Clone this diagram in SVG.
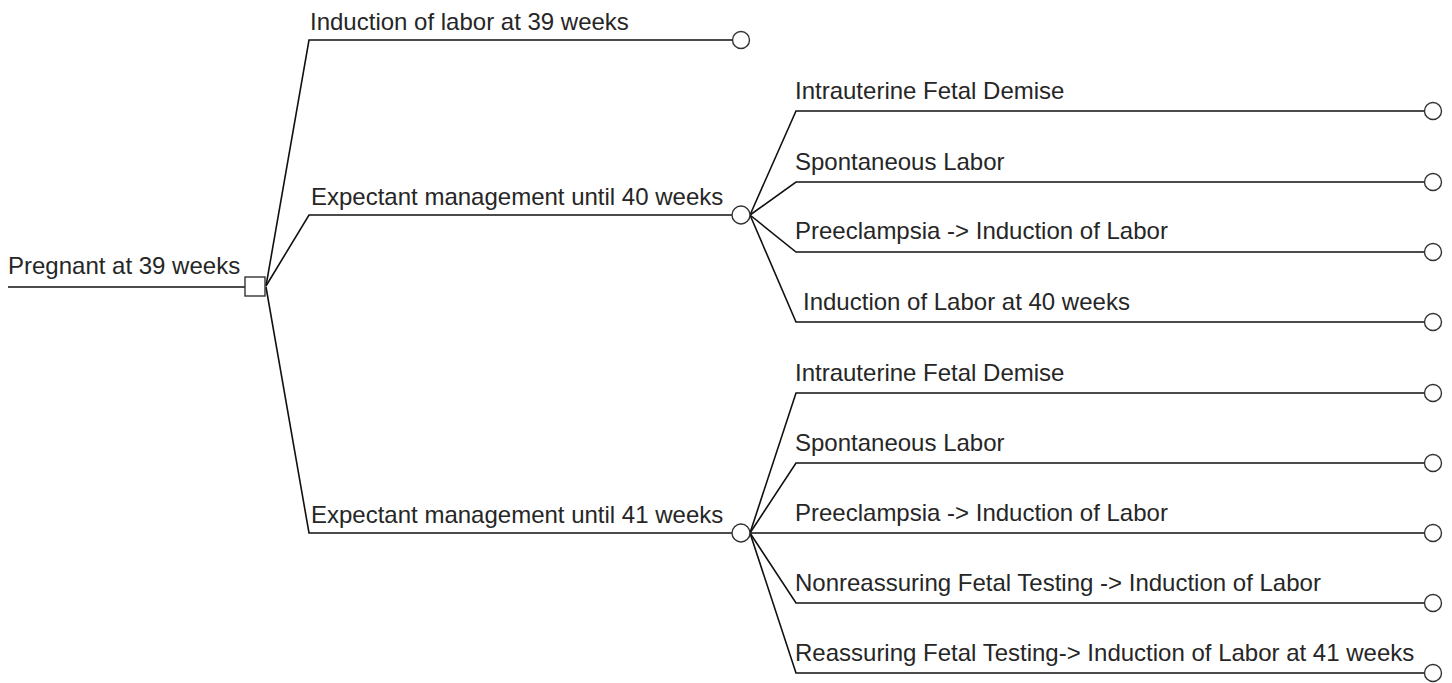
<svg xmlns="http://www.w3.org/2000/svg" width="1452" height="683" viewBox="0 0 1452 683">
<style>
text{font-family:"Liberation Sans",Arial,sans-serif;font-size:24px;fill:#262626}
.ln{fill:none;stroke:#111;stroke-width:1.6}
.ch{fill:#fff;stroke:#333;stroke-width:1.4}
</style>
<rect width="1452" height="683" fill="#fff"/>
<g id="connectors">
<path class="ln" d="M8 287H245"/>
<path class="ln" d="M266 286L309 40H733"/>
<path class="ln" d="M266 286L309 215H732"/>
<path class="ln" d="M266 287L309 533H732"/>
<path class="ln" d="M750 215L796 111H1424"/>
<path class="ln" d="M750 215L796 182H1424"/>
<path class="ln" d="M750 215L796 252H1424"/>
<path class="ln" d="M750 215L796 322H1424"/>
<path class="ln" d="M750 533L796 393H1424"/>
<path class="ln" d="M750 533L796 463H1424"/>
<path class="ln" d="M750 533H1424"/>
<path class="ln" d="M750 533L796 603H1424"/>
<path class="ln" d="M750 533L796 673H1424"/>
</g>
<g id="root"><rect class="ch" x="245" y="277" width="20" height="19"/><text x="8" y="274">Pregnant at 39 weeks</text></g>
<g id="b1"><circle class="ch" cx="741" cy="40" r="8.5"/><text x="310" y="30">Induction of labor at 39 weeks</text></g>
<g id="b2"><circle class="ch" cx="741" cy="215" r="9"/><text x="311" y="205">Expectant management until 40 weeks</text></g>
<g id="b3"><circle class="ch" cx="741" cy="533" r="9"/><text x="311" y="523">Expectant management until 41 weeks</text></g>
<g id="b2a"><circle class="ch" cx="1433" cy="111" r="8.5"/><text x="795" y="99">Intrauterine Fetal Demise</text></g>
<g id="b2b"><circle class="ch" cx="1433" cy="182" r="8.5"/><text x="795" y="170">Spontaneous Labor</text></g>
<g id="b2c"><circle class="ch" cx="1433" cy="252" r="8.5"/><text x="795" y="239">Preeclampsia -&gt; Induction of Labor</text></g>
<g id="b2d"><circle class="ch" cx="1433" cy="322" r="8.5"/><text x="803" y="310">Induction of Labor at 40 weeks</text></g>
<g id="b3a"><circle class="ch" cx="1433" cy="393" r="8.5"/><text x="795" y="381">Intrauterine Fetal Demise</text></g>
<g id="b3b"><circle class="ch" cx="1433" cy="463" r="8.5"/><text x="795" y="451">Spontaneous Labor</text></g>
<g id="b3c"><circle class="ch" cx="1433" cy="533" r="8.5"/><text x="795" y="521">Preeclampsia -&gt; Induction of Labor</text></g>
<g id="b3d"><circle class="ch" cx="1433" cy="603" r="8.5"/><text x="795" y="591">Nonreassuring Fetal Testing -&gt; Induction of Labor</text></g>
<g id="b3e"><circle class="ch" cx="1433" cy="673" r="8.5"/><text x="795" y="661">Reassuring Fetal Testing-&gt; Induction of Labor at 41 weeks</text></g>
</svg>
